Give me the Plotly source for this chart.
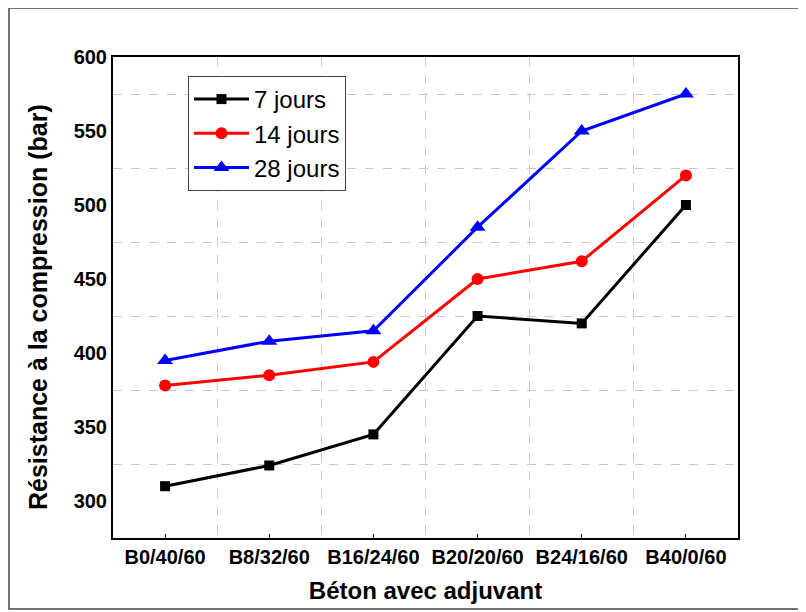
import plotly.graph_objects as go

categories = ["B0/40/60", "B8/32/60", "B16/24/60", "B20/20/60", "B24/16/60", "B40/0/60"]
jours7 = [310, 324, 345, 425, 420, 500]
jours14 = [378, 385, 394, 450, 462, 520]
jours28 = [395, 408, 415, 485, 550, 575]
series_names = ["7 jours", "14 jours", "28 jours"]
y_ticks = [300, 350, 400, 450, 500, 550, 600]

x = list(range(len(categories)))

fig = go.Figure()
styles = [
    (jours7, "black", "square", 10),
    (jours14, "#ff0000", "circle", 12),
    (jours28, "#0000ff", "triangle-up", 14),
]
for name, (vals, col, sym, size) in zip(series_names, styles):
    fig.add_trace(go.Scatter(
        x=x, y=vals, name=name, mode="lines+markers",
        line=dict(color=col, width=3),
        marker=dict(symbol=sym, size=size, color=col),
    ))

# page body has an 8px offset; figure origin sits at (8, 8) in the window
L, T, PW, PH = 105, 49, 625, 481
fig.update_layout(
    width=798, height=604,
    margin=dict(l=L, r=798 - L - PW, t=T, b=604 - T - PH, autoexpand=False),
    paper_bgcolor="white", plot_bgcolor="white",
    font=dict(family="Liberation Sans, Arial, sans-serif", color="black"),
    showlegend=True,
    legend=dict(
        x=(188 - 113) / PW, y=(538 - 76) / PH, xanchor="left", yanchor="top",
        bordercolor="#444", borderwidth=1, bgcolor="white",
        font=dict(size=24, color="black"),
        itemwidth=55, tracegroupgap=0,
    ),
    shapes=[dict(type="rect", xref="paper", yref="paper",
                 x0=(9 - 113) / PW, x1=(812 - 113) / PW,
                 y0=(538 - 609) / PH, y1=(538 - 8) / PH,
                 line=dict(color="#444", width=1.5), layer="below")],
    annotations=[dict(
        text="<b>Résistance à la compression (bar)</b>",
        xref="paper", yref="paper",
        x=(38 - 113) / PW, y=(538 - 307) / PH,
        xanchor="center", yanchor="middle",
        textangle=-90, showarrow=False,
        font=dict(size=25, color="black"),
    )],
)

fig.update_xaxes(
    range=[-0.5, 5.5],
    tickvals=x, ticktext=[f"<b>{c}</b>" for c in categories],
    tickfont=dict(size=20),
    showgrid=False, zeroline=False,
    showline=True, linecolor="black", linewidth=2, mirror=True,
    ticks="inside", ticklen=4, tickcolor="black",
    minor=dict(tick0=0.5, dtick=1, showgrid=True, gridcolor="#c8c8c8",
               griddash="dash", gridwidth=1, ticks=""),
    title=dict(text="<b>Béton avec adjuvant</b>", font=dict(size=24), standoff=15),
)
fig.update_yaxes(
    range=[275, 600],
    tickvals=y_ticks, ticktext=[f"<b>{v}</b>" for v in y_ticks],
    tickfont=dict(size=20),
    showgrid=False, zeroline=False,
    showline=True, linecolor="black", linewidth=2, mirror=True,
    ticks="",
    minor=dict(tick0=325, dtick=50, showgrid=True, gridcolor="#c8c8c8",
               griddash="dash", gridwidth=1, ticks=""),
)

fig.write_html("out.html")
